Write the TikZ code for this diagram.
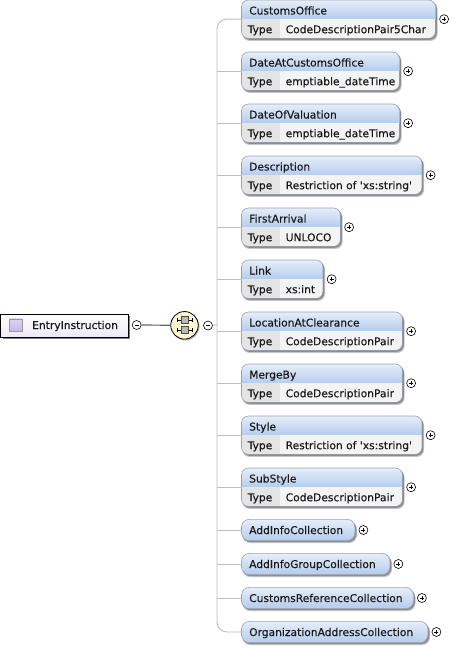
\documentclass[tikz,border=0pt]{standalone}
\usepackage{fontspec}
\setmainfont{DejaVu Sans}
\newfontfamily\lblfont[FakeBold=0.25]{DejaVu Sans}
\definecolor{hdtop}{HTML}{E6EEF9}
\definecolor{hdbot}{HTML}{B4CCEC}
\definecolor{bxline}{HTML}{9AA4B2}
\definecolor{trunk}{HTML}{BDBDBD}
\definecolor{cellA}{HTML}{E4E4E4}
\definecolor{cellB}{HTML}{F4F4F4}
\definecolor{shad}{HTML}{808080}
\definecolor{seqfill}{HTML}{FBF8CF}
\definecolor{lila}{HTML}{C4B8E6}
\tikzset{
  txt/.style={font=\lblfont\fontsize{10.7}{12}\selectfont, inner sep=0pt, anchor=base west, text=black!90},
  conn/.style={draw=trunk, line width=0.9pt},
  tog/.style={circle, draw=black, fill=white, line width=0.6pt, minimum size=9pt, inner sep=0pt},
  anchorbox/.style={inner sep=0pt, minimum width=#1, minimum height=38pt, anchor=north west},
  pillbox/.style={inner sep=0pt, minimum width=#1, minimum height=21pt, anchor=west},
  seqsq/.style={draw=black!70,fill=gray!55,inner sep=0pt,minimum size=7pt,line width=0.4pt},
}
\newcommand{\plus}[1]{\draw[line width=0.5pt] ([xshift=-2pt]#1.center) -- ([xshift=2pt]#1.center) ([yshift=-2pt]#1.center) -- ([yshift=2pt]#1.center);}
\newcommand{\minus}[1]{\draw[line width=0.5pt] ([xshift=-2pt]#1.center) -- ([xshift=2pt]#1.center);}
% name, top y, width, title, type
\newcommand{\elem}[5]{%
  \node[anchorbox=#3] (#1) at (241.5,#2) {};
  \fill[shad!45] ([shift={(1,2.5)}]#1.north west) [rounded corners=7pt] rectangle ([shift={(2.2,2.5)}]#1.south east);
  \fill[shad!90] ([shift={(1,1.4)}]#1.north west) [rounded corners=7pt] rectangle ([shift={(1.4,1.4)}]#1.south east);
  \begin{scope}
    \path[clip,rounded corners=7pt] (#1.north west) rectangle (#1.south east);
    \shade[top color=hdtop,bottom color=hdbot] (#1.north west) rectangle ([yshift=19pt]#1.south east);
    \fill[cellB] ([yshift=19pt]#1.south west) rectangle (#1.south east);
    \fill[cellA] ([yshift=19pt]#1.south west) rectangle ([xshift=38pt]#1.south west);
  \end{scope}
  \draw[bxline,rounded corners=7pt,line width=0.6pt] (#1.north west) rectangle (#1.south east);
  \node[txt] (#1t) at ([shift={(7.5,14.5)}]#1.north west) {#4};
  \node[txt] (#1k) at ([shift={(6,-5.2)}]#1.south west) {Type};
  \node[txt] (#1v) at ([shift={(44,-5.2)}]#1.south west) {#5};
  \node[tog] (#1p) at ([shift={(8.7,0)}]#1.east) {}; \plus{#1p}
}
\newcommand{\pill}[4]{%
  \node[pillbox=#3] (#1) at (241.5,#2) {};
  \fill[shad!45] ([shift={(1,2.5)}]#1.north west) [rounded corners=8pt] rectangle ([shift={(2.2,2.5)}]#1.south east);
  \fill[shad!90] ([shift={(1,1.4)}]#1.north west) [rounded corners=8pt] rectangle ([shift={(1.4,1.4)}]#1.south east);
  \shade[top color=hdtop,bottom color=hdbot,rounded corners=8pt] (#1.north west) rectangle (#1.south east);
  \draw[bxline,rounded corners=8pt,line width=0.6pt] (#1.north west) rectangle (#1.south east);
  \node[txt] (#1t) at ([shift={(7.5,4)}]#1.west) {#4};
  \node[tog] (#1p) at ([shift={(8.5,0)}]#1.east) {}; \plus{#1p}
}
\begin{document}
\begin{tikzpicture}[x=1pt,y=-1pt]
\useasboundingbox (0,0) rectangle (451,648);
\fill[white] (0,0) rectangle (451,648);
% trunk
\coordinate (tr) at (217,325);
\coordinate (trtop) at (217,19);
\coordinate (trbot) at (217,632);
% root
\node[inner sep=0pt,minimum width=127.5pt,minimum height=22.5pt,anchor=north west] (root) at (0.5,314) {};
\fill[shad] ([shift={(2,2)}]root.north west) rectangle ([shift={(2,2)}]root.south east);
\shade[top color=white,bottom color=lila!30,draw=black,line width=0.8pt] (root.north west) rectangle (root.south east);
\node[inner sep=0pt,minimum size=12.5pt,shade,top color=lila!60,bottom color=lila,draw=gray!80,line width=0.4pt] (icon) at (15.5,325) {};
\node[txt] (roott) at (32,329) {EntryInstruction};
\node[tog] (rm) at (136.7,325) {}; \minus{rm}
\fill[shad!60] (185.5,326.5) circle (14pt);
\node[circle,minimum size=27.5pt,inner sep=0pt,fill=seqfill,draw=black,line width=0.8pt] (seq) at (184.5,325.3) {};
\node[tog] (sm) at (208,325.5) {}; \minus{sm}
\draw[line width=1.2pt,black!60] (rm) -- (seq);
\draw[conn] (sm) -- (tr);
% sequence icon
\draw[line width=0.7pt] (177,320) -- (192,320) (177,330) -- (192,330)
  (177,317.8) -- (177,322.2) (192,317.8) -- (192,322.2)
  (177,327.8) -- (177,332.2) (192,327.8) -- (192,332.2);
\node[seqsq] (s1) at (184.5,320) {};
\node[seqsq] (s2) at (184.5,330) {};
% elements
\elem{a}{0}{193.5}{CustomsOffice}{CodeDescriptionPair5Char}
\elem{b}{52}{157.5}{DateAtCustomsOffice}{emptiable\_dateTime}
\elem{c}{104}{157.5}{DateOfValuation}{emptiable\_dateTime}
\elem{d}{156}{180}{Description}{Restriction of \textquotesingle xs:string\textquotesingle}
\elem{e}{208}{98.5}{FirstArrival}{UNLOCO}
\elem{f}{260}{81}{Link}{xs:int}
\elem{g}{312}{160.5}{LocationAtClearance}{CodeDescriptionPair}
\elem{h}{364}{160.5}{MergeBy}{CodeDescriptionPair}
\elem{i}{416}{180}{Style}{Restriction of \textquotesingle xs:string\textquotesingle}
\elem{j}{468}{160.5}{SubStyle}{CodeDescriptionPair}
\pill{k}{530}{113}{AddInfoCollection}
\pill{l}{564}{148}{AddInfoGroupCollection}
\pill{m}{598}{171.5}{CustomsReferenceCollection}
\pill{n}{632}{186}{OrganizationAddressCollection}
% connectors
\draw[conn,rounded corners=10pt] (a.west) -- (trtop) -- (trbot) -- (n.west);
\foreach \q in {b,c,d,e,f,g,h,i,j,k,l,m}{ \draw[conn] (\q.west -| tr) -- (\q.west); }
\end{tikzpicture}
\end{document}
